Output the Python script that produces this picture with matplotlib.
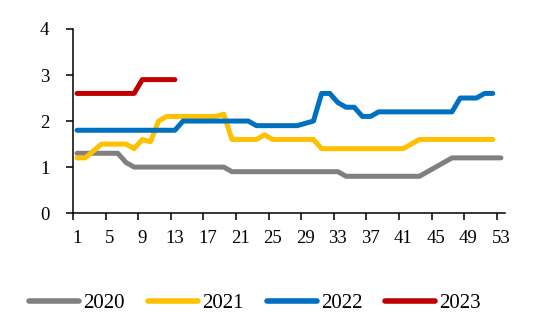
import numpy as np
import matplotlib

matplotlib.use('Agg')
import matplotlib.pyplot as plt

plt.rcParams['font.family'] = ['Liberation Serif', 'DejaVu Serif']

weeks = np.arange(1, 54)

# 2020: 53 weeks
y2020 = [1.3, 1.3, 1.3, 1.3, 1.3, 1.3, 1.1, 1.0, 1.0, 1.0,
         1.0, 1.0, 1.0, 1.0, 1.0, 1.0, 1.0, 1.0, 1.0, 0.9,
         0.9, 0.9, 0.9, 0.9, 0.9, 0.9, 0.9, 0.9, 0.9, 0.9,
         0.9, 0.9, 0.9, 0.8, 0.8, 0.8, 0.8, 0.8, 0.8, 0.8,
         0.8, 0.8, 0.8, 0.9, 1.0, 1.1, 1.2, 1.2, 1.2, 1.2,
         1.2, 1.2, 1.2]
# 2021: 52 weeks
y2021 = [1.2, 1.2, 1.35, 1.5, 1.5, 1.5, 1.5, 1.4, 1.6, 1.55,
         2.0, 2.1, 2.1, 2.1, 2.1, 2.1, 2.1, 2.1, 2.15, 1.6,
         1.6, 1.6, 1.6, 1.7, 1.6, 1.6, 1.6, 1.6, 1.6, 1.6,
         1.4, 1.4, 1.4, 1.4, 1.4, 1.4, 1.4, 1.4, 1.4, 1.4,
         1.4, 1.5, 1.6, 1.6, 1.6, 1.6, 1.6, 1.6, 1.6, 1.6,
         1.6, 1.6]
# 2022: 52 weeks
y2022 = [1.8, 1.8, 1.8, 1.8, 1.8, 1.8, 1.8, 1.8, 1.8, 1.8,
         1.8, 1.8, 1.8, 2.0, 2.0, 2.0, 2.0, 2.0, 2.0, 2.0,
         2.0, 2.0, 1.9, 1.9, 1.9, 1.9, 1.9, 1.9, 1.95, 2.0,
         2.6, 2.6, 2.4, 2.3, 2.3, 2.1, 2.1, 2.2, 2.2, 2.2,
         2.2, 2.2, 2.2, 2.2, 2.2, 2.2, 2.2, 2.5, 2.5, 2.5,
         2.6, 2.6]
# 2023: 13 weeks
y2023 = [2.6, 2.6, 2.6, 2.6, 2.6, 2.6, 2.6, 2.6, 2.9, 2.9,
         2.9, 2.9, 2.9]

series = [('2020', y2020, '#808080'),
          ('2021', y2021, '#FFC000'),
          ('2022', y2022, '#0070C0'),
          ('2023', y2023, '#C00000')]

fig = plt.figure(figsize=(5.5, 3.33), dpi=100)
ax = fig.add_axes([0.1327, 0.36, 0.7855, 0.553])

for name, vals, col in series:
    ax.plot(weeks[:len(vals)], vals, color=col, lw=3.6, label=name,
            solid_capstyle='round', solid_joinstyle='round')

ax.set_xlim(0.5, 53.5)
ax.set_ylim(0, 4)
ax.set_yticks([0, 1, 2, 3, 4])

# tick marks between categories, labels on category centres
ax.set_xticks(np.arange(0.5, 53, 4))
ax.set_xticklabels([])
ax.set_xticks(np.arange(1, 54, 4), minor=True)
ax.set_xticklabels([str(w) for w in range(1, 54, 4)], minor=True)
ax.tick_params(axis='x', which='major', length=5, width=1.1, direction='out')
ax.tick_params(axis='x', which='minor', length=0, pad=12, labelsize=13.5)
ax.tick_params(axis='y', length=5, width=1.1, direction='out', pad=12, labelsize=13.5)

for s in ['top', 'right']:
    ax.spines[s].set_visible(False)
for s in ['left', 'bottom']:
    ax.spines[s].set_linewidth(1.1)

leg = fig.legend(loc='center', bbox_to_anchor=(0.464, 0.09), ncol=4, frameon=False,
                 fontsize=15, handlelength=2.4, handletextpad=0.2, columnspacing=1.1)
for h in leg.get_lines():
    h.set_linewidth(4.0)
    h.set_solid_capstyle('round')

fig.savefig('out.png', dpi=100)
